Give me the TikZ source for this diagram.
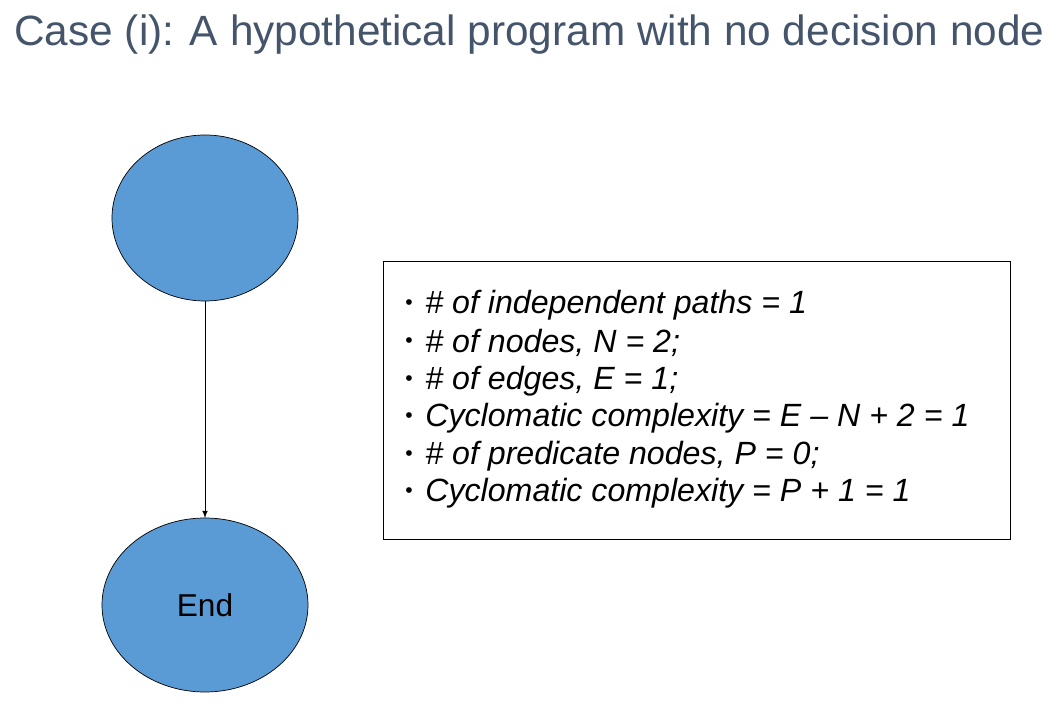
\documentclass[tikz,border=0pt]{standalone}
\usepackage{fontspec}
\setmainfont{Liberation Sans}
\definecolor{titlec}{HTML}{44546A}
\definecolor{nodeblue}{HTML}{5B9BD5}
\begin{document}
\begin{tikzpicture}[x=0.02cm,y=-0.02cm,
  item/.style={anchor=west,font=\fontsize{18.3}{20}\selectfont\itshape,inner sep=0pt}]
\useasboundingbox (0,0) rectangle (1062,709);
\node[anchor=west,text=titlec,font=\fontsize{24.1}{28}\selectfont,inner sep=0pt] (title) at (14,35) {Case (i): A hypothetical program with no decision node};
\draw[fill=nodeblue] (205,218) ellipse [x radius=93,y radius=83];
\coordinate (a) at (205,301);
\draw[fill=nodeblue] (205,605) ellipse [x radius=103,y radius=87];
\node[font=\fontsize{18}{20}\selectfont] (endn) at (205,605) {End};
\coordinate (b) at (205,518);
\draw[-latex,line width=0.4pt] (a) -- (b);
\draw[line width=0.5pt] (383,261) rectangle (1010,539);
\foreach \y/\t in {305/{\# of independent paths = 1},343/{\# of nodes, N = 2;},381/{\# of edges, E = 1;},418/{Cyclomatic complexity = E – N + 2 = 1},456/{\# of predicate nodes, P = 0;},493/{Cyclomatic complexity = P + 1 = 1}}{
  \node[font=\fontsize{12}{14}\selectfont] at (409,\y) {•};
  \node[item] at (425,\y) {\t};
}
\end{tikzpicture}
\end{document}
